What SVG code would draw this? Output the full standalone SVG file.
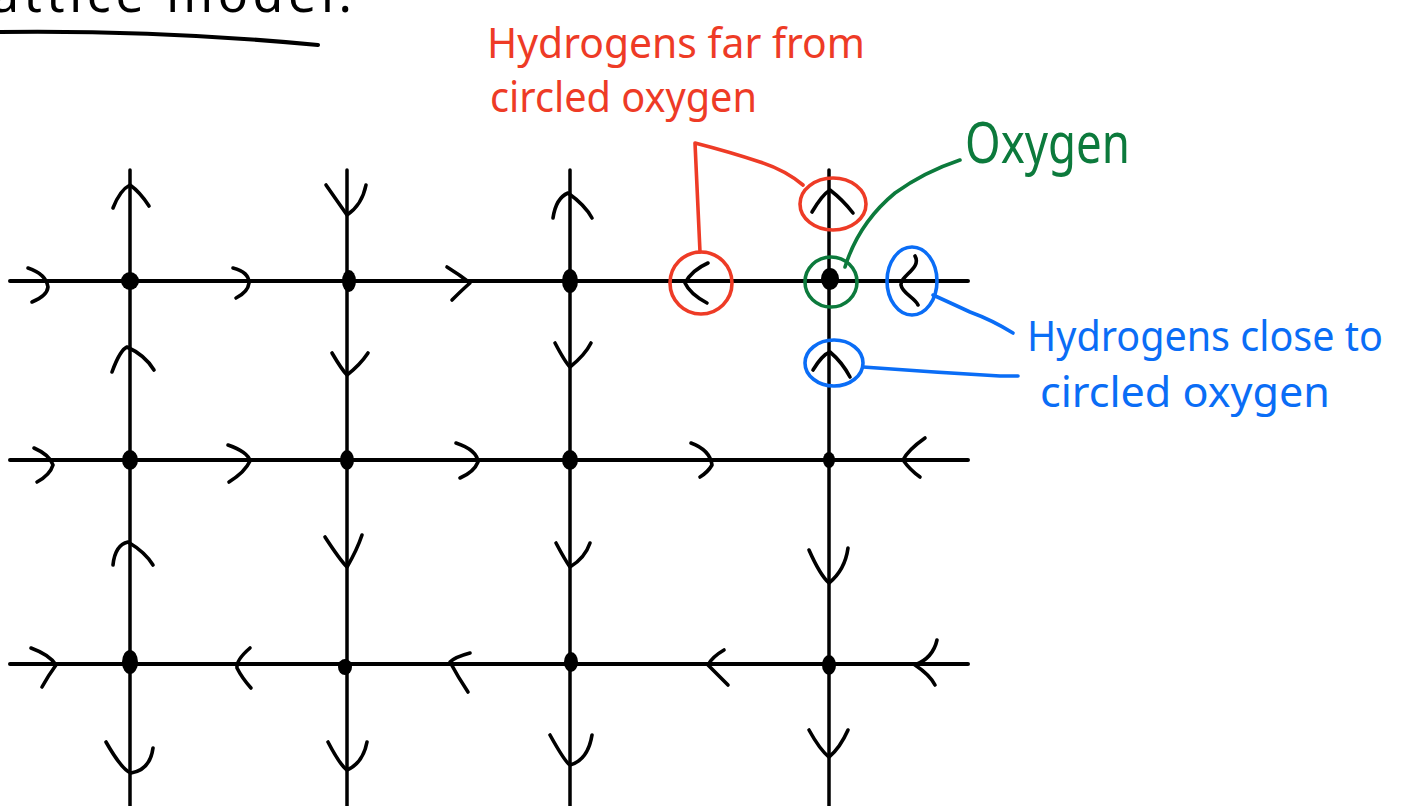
<svg xmlns="http://www.w3.org/2000/svg" width="1404" height="806" viewBox="0 0 1404 806">
<style>
.ln{stroke:#000;fill:none;stroke-linecap:round;stroke-linejoin:round}
.h{stroke-width:4}
.v{stroke-width:3.5}
.ar{stroke:#000;stroke-width:3.6;fill:none;stroke-linecap:round;stroke-linejoin:round}
.dot{fill:#000}
.red{stroke:#EE3B26;stroke-width:3.6;fill:none;stroke-linecap:round;stroke-linejoin:round}
.grn{stroke:#0C7A3C;stroke-width:3.6;fill:none;stroke-linecap:round;stroke-linejoin:round}
.blu{stroke:#0A6DF6;stroke-width:3.6;fill:none;stroke-linecap:round;stroke-linejoin:round}
.t{font-family:"Noto Sans","Liberation Sans",sans-serif}
</style>
<rect width="1404" height="806" fill="#fff"/>
<g id="title">
<text class="t" x="-40" y="12" font-size="50" textLength="392" lengthAdjust="spacing" fill="#000">Lattice model:</text>
<path class="ln" stroke-width="4" d="M0,32 Q160,30 318,45"/>
</g>
<g id="connectors">
<g id="grid">
<path class="ln h" d="M10,281 H968 M10,460 H968 M10,664 H968"/>
<path class="ln v" d="M130,170 V806 M347,170 V806 M570,170 V806 M829,170 V806"/>
</g>
<g id="arrows">
<path class="ar" d="M28,268 Q46,274 48,287 Q47,296 32,302"/>
<path class="ar" d="M233,268 Q249,272 249,283 Q248,292 236,298"/>
<path class="ar" d="M447,267 Q460,275 470,283 Q462,290 452,300"/>
<path class="ar" d="M708,263 Q692,270 685,283 Q690,294 707,303"/>
<path class="ar" d="M915,256 C922,268 900,276 901,285 C902,293 915,298 918,305"/>
<path class="ar" d="M34,448 Q50,455 53,465 Q50,475 37,482"/>
<path class="ar" d="M228,445 Q248,452 250,461 Q245,472 229,482"/>
<path class="ar" d="M456,443 Q477,450 478,462 Q474,472 460,478"/>
<path class="ar" d="M691,443 Q710,450 712,465 Q708,472 700,477"/>
<path class="ar" d="M925,438 Q908,450 903,460 Q910,470 920,477"/>
<path class="ar" d="M31,648 Q50,655 56,665 Q48,676 42,687"/>
<path class="ar" d="M250,648 Q236,660 237,668 Q242,678 251,688"/>
<path class="ar" d="M470,653 Q455,657 450,662 Q458,677 468,692"/>
<path class="ar" d="M724,650 Q712,657 708,665 Q718,675 728,685"/>
<path class="ar" d="M937,640 Q933,658 915,665 Q930,675 935,685"/>
<path class="ar" d="M113,208 Q120,190 130,185 Q140,192 149,206"/>
<path class="ar" d="M112,372 Q120,350 127,347 Q145,355 154,370"/>
<path class="ar" d="M113,565 Q115,545 128,542 Q145,552 153,565"/>
<path class="ar" d="M106,742 Q122,770 131,773 Q150,770 153,748"/>
<path class="ar" d="M326,185 Q340,205 347,215 Q362,205 366,185"/>
<path class="ar" d="M332,353 Q342,370 347,375 Q360,365 368,353"/>
<path class="ar" d="M325,537 Q340,560 347,567 Q357,550 362,535"/>
<path class="ar" d="M328,742 Q340,765 347,770 Q363,763 367,742"/>
<path class="ar" d="M553,218 Q556,198 568,193 Q585,205 592,218"/>
<path class="ar" d="M555,343 Q565,362 570,367 Q585,355 591,343"/>
<path class="ar" d="M556,543 Q565,560 570,567 Q585,558 590,543"/>
<path class="ar" d="M550,735 Q565,762 570,765 Q588,760 592,735"/>
<path class="ar" d="M812,212 Q822,195 830,190 Q843,200 853,213"/>
<path class="ar" d="M813,370 Q822,355 830,352 Q842,362 850,377"/>
<path class="ar" d="M809,550 Q820,575 829,583 Q845,570 848,548"/>
<path class="ar" d="M809,730 Q820,750 829,757 Q840,748 848,730"/>
</g>
<g id="leaders">
<path class="red" d="M700,252 L695,143 Q730,152 760,162 Q785,170 803,185"/>
<path class="grn" d="M845,267 C855,235 872,212 895,193 C920,175 945,165 960,160"/>
<path class="blu" d="M933,295 Q955,305 970,312 Q992,320 1013,333"/>
<path class="blu" d="M863,367 Q930,372 1000,376 L1018,376"/>
</g>
</g>
<g id="oxygens">
<ellipse class="dot" cx="130" cy="281" rx="9" ry="9"/>
<ellipse class="dot" cx="349" cy="281" rx="7" ry="11"/>
<ellipse class="dot" cx="570" cy="281" rx="8" ry="12"/>
<ellipse class="dot" cx="830" cy="279" rx="9" ry="11"/>
<ellipse class="dot" cx="130" cy="460" rx="8" ry="10"/>
<ellipse class="dot" cx="347" cy="460" rx="7" ry="10"/>
<ellipse class="dot" cx="570" cy="460" rx="8" ry="10"/>
<ellipse class="dot" cx="829" cy="460" rx="6" ry="8"/>
<ellipse class="dot" cx="130" cy="662" rx="8" ry="12"/>
<ellipse class="dot" cx="345" cy="667" rx="7" ry="8"/>
<ellipse class="dot" cx="571" cy="662" rx="7" ry="10"/>
<ellipse class="dot" cx="829" cy="665" rx="7" ry="10"/>
</g>
<g id="circle-far-left"><ellipse class="red" cx="701" cy="283" rx="31" ry="31"/></g>
<g id="circle-far-top"><ellipse class="red" cx="833" cy="204" rx="33" ry="26"/></g>
<g id="circle-oxygen"><ellipse class="grn" cx="831" cy="282" rx="26" ry="25"/></g>
<g id="circle-close-right"><ellipse class="blu" cx="912" cy="281" rx="25" ry="34"/></g>
<g id="circle-close-bottom"><ellipse class="blu" cx="834" cy="363" rx="29" ry="23"/></g>
<g id="label-far" fill="#EE3B26">
<text class="t" x="487" y="58" font-size="41" textLength="378" lengthAdjust="spacingAndGlyphs">Hydrogens far from</text>
<text class="t" x="490" y="112" font-size="41" textLength="267" lengthAdjust="spacingAndGlyphs">circled oxygen</text>
</g>
<g id="label-oxygen" fill="#0C7A3C">
<text class="t" x="965" y="163" font-size="56" textLength="165" lengthAdjust="spacingAndGlyphs">Oxygen</text>
</g>
<g id="label-close" fill="#0A6DF6">
<text class="t" x="1027" y="351" font-size="42" textLength="356" lengthAdjust="spacingAndGlyphs">Hydrogens close to</text>
<text class="t" x="1040" y="407" font-size="42" textLength="290" lengthAdjust="spacingAndGlyphs">circled oxygen</text>
</g>
</svg>
